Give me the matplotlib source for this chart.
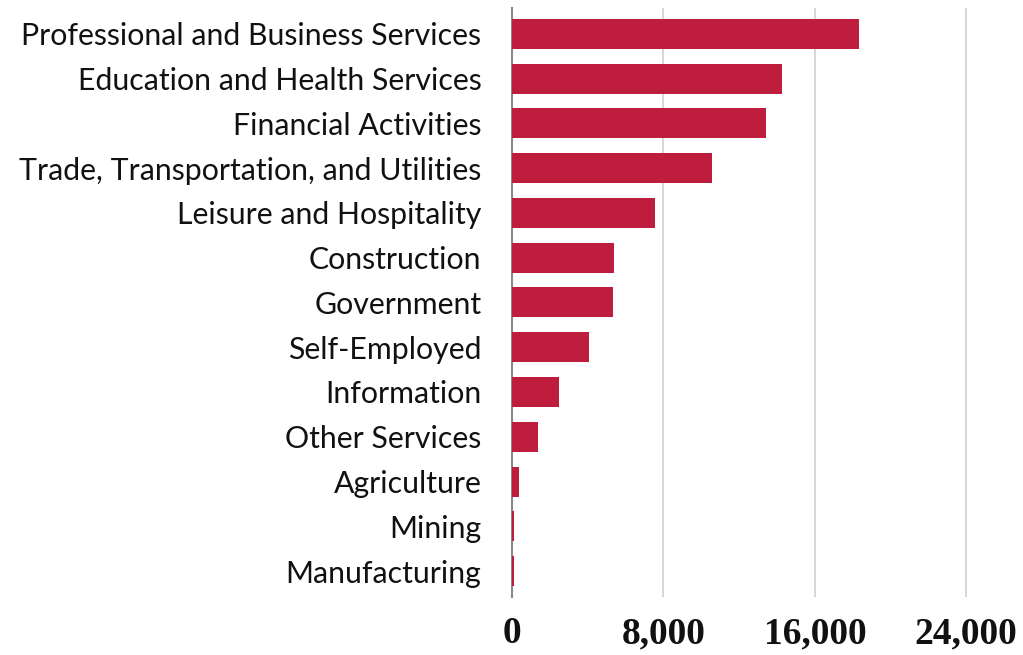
import matplotlib
matplotlib.use("Agg")
import matplotlib.pyplot as plt
import numpy as np

# Employment by sector, sorted largest first
sectors = ["Professional and Business Services", "Education and Health Services",
           "Financial Activities", "Trade, Transportation, and Utilities",
           "Leisure and Hospitality", "Construction", "Government",
           "Self-Employed", "Information", "Other Services", "Agriculture",
           "Mining", "Manufacturing"]
jobs = [18330, 14280, 13420, 10550, 7550, 5410, 5340, 4050, 2470, 1390, 350, 110, 110]
xticks = [0, 8000, 16000, 24000]
xtick_labels = ["0", "8,000", "16,000", "24,000"]

fig = plt.figure(figsize=(10.23, 6.55), dpi=100)
ax = fig.add_axes([0.5005, 0.0885, 0.4995, 0.8995])

ypos = np.arange(len(sectors))
ax.barh(ypos, jobs, height=0.67, color="#BE1D3D", zorder=5)

ax.set_xlim(0, 27000)
ax.set_ylim(len(sectors) - 0.42, -0.58)

ax.set_yticks(ypos)
ax.set_yticklabels(sectors, fontfamily="Lato", fontsize=21.8, color="#111111")
ax.tick_params(axis="y", length=0, pad=22)

ax.set_xticks(xticks)
ax.set_xticklabels(xtick_labels, fontfamily="Liberation Serif", fontweight="bold",
                   fontsize=27, color="#111111")
ax.tick_params(axis="x", length=0, pad=14)

ax.grid(axis="x", color="#cfcfcf", linewidth=1.2, zorder=0)
for s in ["top", "right", "bottom"]:
    ax.spines[s].set_visible(False)
ax.spines["left"].set_color("#8a8a8a")
ax.spines["left"].set_linewidth(1.5)
ax.spines["left"].set_zorder(4)

fig.savefig("out.png", dpi=100)
